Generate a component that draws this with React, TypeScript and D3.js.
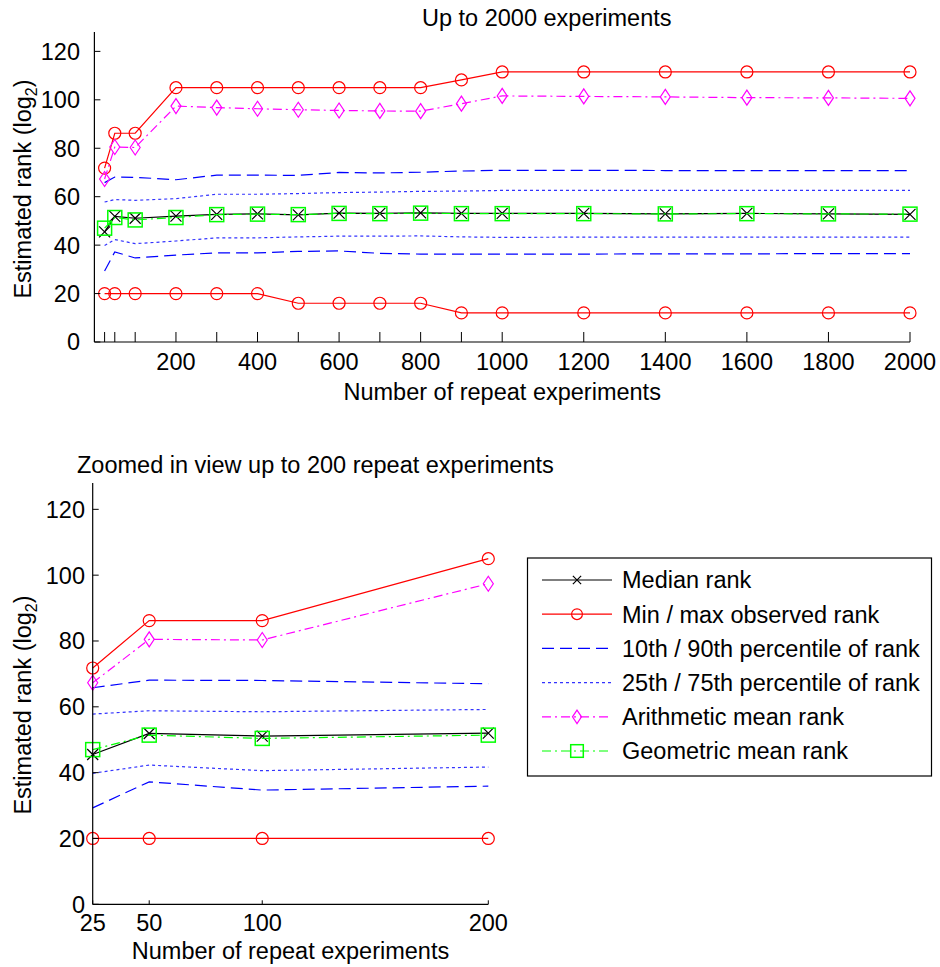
import React from 'react'
import * as d3 from 'd3'

// repeat counts
const repeats = [25, 50, 100, 200, 300, 400, 500, 600, 700, 800, 900, 1000, 1200, 1400, 1600, 1800, 2000]
const zoomRepeats = [25, 50, 100, 200]

// estimated rank (log2) per repeat count
const medianRank = [45.5, 51.9, 51.1, 52.0, 52.7, 52.9, 52.5, 53.2, 53.1, 53.3, 53.1, 53.1, 53.1, 52.9, 53.1, 52.9, 52.7]
const minRank = [20, 20, 20, 20, 20, 20, 16, 16, 16, 16, 12, 12, 12, 12, 12, 12, 12]
const maxRank = [71.8, 86.2, 86.2, 105, 105, 105, 105, 105, 105, 105, 108.2, 111.5, 111.5, 111.5, 111.5, 111.5, 111.5]
const p10Rank = [29.3, 37.2, 34.7, 35.9, 36.8, 36.8, 37.4, 37.6, 36.6, 36.3, 36.3, 36.3, 36.3, 36.4, 36.4, 36.5, 36.5]
const p90Rank = [65.8, 68.1, 68.0, 67.0, 68.9, 68.9, 68.8, 70.0, 69.8, 70.1, 70.6, 70.9, 70.9, 70.8, 70.8, 70.8, 70.8]
const p25Rank = [39.8, 42.3, 40.6, 41.7, 43.0, 43.0, 43.4, 43.7, 43.7, 43.8, 43.4, 43.2, 43.3, 43.3, 43.3, 43.3, 43.3]
const p75Rank = [57.8, 58.8, 58.5, 59.2, 61.0, 61.0, 61.3, 61.7, 61.9, 62.2, 62.3, 62.6, 62.6, 62.6, 62.6, 62.6, 62.6]
const arithMeanRank = [67.3, 80.5, 80.3, 97.4, 96.8, 96.3, 95.9, 95.6, 95.4, 95.3, 98.4, 101.6, 101.4, 101.2, 100.9, 100.8, 100.6]
const geoMeanRank = [47.0, 51.4, 50.4, 51.4, 52.6, 52.8, 52.6, 53.1, 53.0, 53.2, 53.0, 53.0, 53.0, 52.9, 53.0, 52.9, 52.8]

const yTicks = [0, 20, 40, 60, 80, 100, 120]
const topLabelTicks = [200, 400, 600, 800, 1000, 1200, 1400, 1600, 1800, 2000]

const legendLabels = [
  'Median rank',
  'Min / max observed rank',
  '10th / 90th percentile of rank',
  '25th / 75th percentile of rank',
  'Arithmetic mean rank',
  'Geometric mean rank',
]

const FONT = '"Liberation Sans", Arial, Helvetica, sans-serif'
const FS = 23.5

type Marker = 'x' | 'o' | 'd' | 's' | null

const series = [
  { key: 'median', data: [medianRank], color: '#000000', dash: null, marker: 'x' as Marker },
  { key: 'minmax', data: [minRank, maxRank], color: '#ff0000', dash: null, marker: 'o' as Marker },
  { key: 'p1090', data: [p10Rank, p90Rank], color: '#0000ff', dash: '12,6', marker: null },
  { key: 'p2575', data: [p25Rank, p75Rank], color: '#3333ff', dash: '3,3', marker: null },
  { key: 'arith', data: [arithMeanRank], color: '#ff00ff', dash: '9,4,2,4', marker: 'd' as Marker },
  { key: 'geo', data: [geoMeanRank], color: '#00ff00', dash: '9,4,2,4', marker: 's' as Marker },
]

const MarkerShape = ({ type, x, y, color, s = 1 }: { type: Marker; x: number; y: number; color: string; s?: number }) => {
  if (type === 'x') {
    const r = 5.5 * s
    return <path d={`M${x - r},${y - r}L${x + r},${y + r}M${x - r},${y + r}L${x + r},${y - r}`} stroke={color} strokeWidth={1.2} fill="none" />
  }
  if (type === 'o') return <circle cx={x} cy={y} r={6 * s} stroke={color} strokeWidth={1.2} fill="none" />
  if (type === 'd') {
    const w = 5 * s, h = 7.5 * s
    return <path d={`M${x},${y - h}L${x + w},${y}L${x},${y + h}L${x - w},${y}Z`} stroke={color} strokeWidth={1.2} fill="none" />
  }
  if (type === 's') {
    const r = 7 * s
    return <rect x={x - r} y={y - r} width={2 * r} height={2 * r} stroke={color} strokeWidth={1.5} fill="none" />
  }
  return null
}

type PanelProps = {
  xs: number[]
  xDomain: [number, number]
  xRange: [number, number]
  yRange: [number, number]
  tickLen: number
  xTicks: number[]
  xLabelTicks: number[]
  yTickX: number
  xTickLabelY: number
  xLabelY: number
  yLabelPos: [number, number]
  title: string
  titleX: number
  titleY: number
}

const Panel = (p: PanelProps) => {
  const x = d3.scaleLinear().domain(p.xDomain).range(p.xRange)
  const y = d3.scaleLinear().domain([0, 128]).range(p.yRange)
  const n = p.xs.length
  const line = d3.line<number>().x((_, i) => x(p.xs[i])).y((v) => y(v))
  const [x0, x1] = p.xRange
  const [y0, y1] = p.yRange
  return (
    <g fontFamily={FONT} fontSize={FS} fill="#000">
      {series.map((s) =>
        s.data.map((arr, j) => {
          const vals = arr.slice(0, n)
          return (
            <g key={s.key + j}>
              <path d={line(vals) || ''} fill="none" stroke={s.color} strokeWidth={1.2} strokeDasharray={s.dash || undefined} />
              {s.marker && vals.map((v, i) => <MarkerShape key={i} type={s.marker} x={x(p.xs[i])} y={y(v)} color={s.color} />)}
            </g>
          )
        })
      )}
      <line x1={x0} x2={x0} y1={y0} y2={y1} stroke="#000" strokeWidth={1.2} />
      <line x1={x0} x2={x1} y1={y0} y2={y0} stroke="#000" strokeWidth={1.2} />
      {yTicks.map((t) => (
        <g key={'y' + t}>
          <line x1={x0} x2={x0 + 6} y1={y(t)} y2={y(t)} stroke="#000" strokeWidth={1} />
          <text x={p.yTickX} y={y(t)} dy="0.36em" textAnchor="end">{t}</text>
        </g>
      ))}
      {p.xTicks.map((t) => (
        <line key={'xt' + t} x1={x(t)} x2={x(t)} y1={y0} y2={y0 - p.tickLen} stroke="#000" strokeWidth={1} />
      ))}
      {p.xLabelTicks.map((t) => (
        <text key={'xl' + t} x={x(t)} y={p.xTickLabelY} textAnchor="middle">{t}</text>
      ))}
      <text x={(x0 + x1) / 2} y={p.xLabelY} textAnchor="middle">Number of repeat experiments</text>
      <text transform={`translate(${p.yLabelPos[0]},${p.yLabelPos[1]}) rotate(-90)`} textAnchor="middle" dy="0.36em">
        Estimated rank (log<tspan fontSize={16} dy="6">2</tspan><tspan dy="-6">)</tspan>
      </text>
      <text x={p.titleX} y={p.titleY}>{p.title}</text>
    </g>
  )
}

const Legend = () => {
  const left = 527.5, top = 558, w = 404, h = 218
  const rowY = (i: number) => 580 + i * 34.2
  return (
    <g fontFamily={FONT} fontSize={FS}>
      <rect x={left} y={top} width={w} height={h} fill="#fff" stroke="#000" strokeWidth={1.2} />
      {series.map((s, i) => (
        <g key={s.key}>
          <line x1={542} x2={612} y1={rowY(i)} y2={rowY(i)} stroke={s.color} strokeWidth={1.2} strokeDasharray={s.dash || undefined} />
          {s.marker && <MarkerShape type={s.marker} x={577} y={rowY(i)} color={s.color} s={s.marker === 'x' ? 0.75 : 0.9} />}
          <text x={622} y={rowY(i)} dy="0.36em" fill="#000">{legendLabels[i]}</text>
        </g>
      ))}
    </g>
  )
}

export default function App() {
  return (
    <svg width={940} height={967} style={{ position: 'absolute', left: 0, top: 0, background: '#fff' }}>
      <rect width={940} height={967} fill="#fff" />
      <Panel
        xs={repeats}
        xDomain={[0, 2000]}
        xRange={[94.4, 910]}
        yRange={[342, 32]}
        tickLen={10}
        xTicks={repeats}
        xLabelTicks={topLabelTicks}
        yTickX={80}
        xTickLabelY={370}
        xLabelY={400}
        yLabelPos={[23, 189]}
        title="Up to 2000 experiments"
        titleX={422}
        titleY={26}
      />
      <Panel
        xs={zoomRepeats}
        xDomain={[25, 200]}
        xRange={[92.7, 488.3]}
        yRange={[904.3, 483]}
        tickLen={4}
        xTicks={zoomRepeats}
        xLabelTicks={zoomRepeats}
        yTickX={85}
        xTickLabelY={931}
        xLabelY={959}
        yLabelPos={[23, 705]}
        title="Zoomed in view up to 200 repeat experiments"
        titleX={77}
        titleY={473}
      />
      <Legend />
    </svg>
  )
}
